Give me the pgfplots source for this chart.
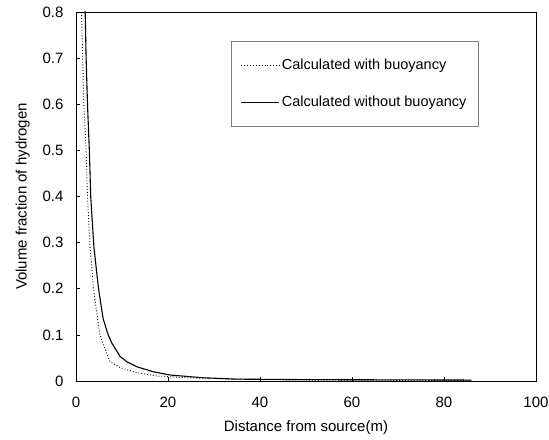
\documentclass[border=0pt]{standalone}
\usepackage{pgfplots}
\pgfplotsset{compat=1.18}
\usepackage{fontspec}
\setmainfont{Liberation Sans}
\begin{document}
\begin{tikzpicture}
\begin{axis}[
  name=ax,
  scale only axis,
  width=460pt, height=369pt,
  xmin=0, xmax=100, ymin=0, ymax=0.8,
  xtick={0,20,40,60,80,100},
  ytick={0,0.1,0.2,0.3,0.4,0.5,0.6,0.7,0.8},
  yticklabel style={/pgf/number format/fixed,/pgf/number format/precision=1, xshift=-9pt},
  xticklabel style={yshift=-12pt},
  /pgf/number format/assume math mode=true,
  tick pos=left, tick align=inside,
  major tick length=4pt,
  axis line style={line width=0.9pt},
  tick style={line width=0.6pt, black},
  ticklabel style={font=\fontsize{15}{17}\selectfont},
  xlabel={Distance from source(m)},
  ylabel={Volume fraction of hydrogen},
  label style={font=\fontsize{15}{17}\selectfont},
  xlabel style={yshift=-7pt},
  ylabel style={yshift=6pt},
  legend style={at={(0.336,0.921)}, anchor=north west, draw=gray, line width=0.5pt,
    font=\fontsize{14.5}{16}\selectfont, row sep=21pt, inner xsep=10pt, inner ysep=16pt},
  legend cell align=left,
  legend image code/.code={\draw[#1] (0pt,0pt) -- (38pt,0pt);},
]
\addplot[black, line width=0.9pt, dotted] coordinates {
(1.0,0.9) (1.2,0.8) (1.45,0.7) (1.7,0.6) (2.2,0.5) (2.5,0.4) (3.0,0.3) (3.8,0.2) (4.2,0.17) (5.2,0.1) (5.9,0.08) (7.4,0.042) (9.6,0.029) (13.2,0.018) (17.5,0.011) (24,0.007) (35,0.004) (50,0.002) (86,0.001)
};
\addlegendentry{Calculated with buoyancy}
\addplot[black, line width=1.1pt] coordinates {
(1.9,0.9) (2.0,0.8) (2.2,0.7) (2.5,0.6) (2.9,0.5) (3.2,0.4) (3.9,0.29) (4.9,0.2) (5.9,0.135) (7.0,0.1) (7.8,0.082) (9.6,0.053) (11,0.042) (13.2,0.031) (16.8,0.02) (20.4,0.013) (27.6,0.007) (35,0.004) (50,0.003) (86,0.002)
};
\addlegendentry{Calculated without buoyancy}
\end{axis}
\pgfresetboundingbox
\path[use as bounding box] ([xshift=-76pt,yshift=-59pt]ax.south west) rectangle ([xshift=13pt,yshift=12pt]ax.north east);
\end{tikzpicture}
\end{document}
